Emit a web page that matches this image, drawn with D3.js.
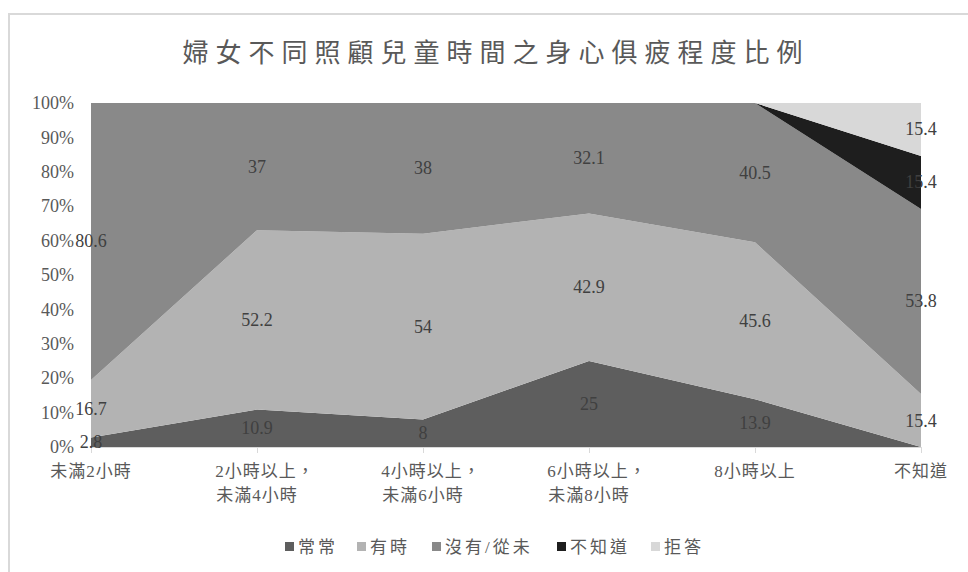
<!DOCTYPE html>
<html><head><meta charset="utf-8">
<script src="https://cdn.jsdelivr.net/npm/d3@7"></script>
<style>
html,body{margin:0;padding:0;background:#fff;}
svg{display:block;}
</style></head>
<body>
<script>
const title = "婦女不同照顧兒童時間之身心俱疲程度比例";
const categories = [["未滿2小時"],["2小時以上，","未滿4小時"],["4小時以上，","未滿6小時"],["6小時以上，","未滿8小時"],["8小時以上"],["不知道"]];
const seriesNames = ["常常","有時","沒有/從未","不知道","拒答"];
const often   = [2.8, 10.9, 8, 25, 13.9, 0];
const sometimes = [16.7, 52.2, 54, 42.9, 45.6, 15.4];
const never   = [80.6, 37, 38, 32.1, 40.5, 53.8];
const unknown = [0, 0, 0, 0, 0, 15.4];
const refused = [0, 0, 0, 0, 0, 15.4];
const yTicks = [0,10,20,30,40,50,60,70,80,90,100];
const colors = ["#5e5e5e","#b3b3b3","#898989","#1e1e1e","#d8d8d8"];

const FONT = "'Liberation Serif','Times New Roman','DejaVu Serif','Noto Sans CJK TC',serif";
const W=968,H=572;
const svg=d3.select("body").append("svg").attr("width",W).attr("height",H);
// frame
svg.append("path").attr("d","M9,572 V14 H968").attr("fill","none").attr("stroke","#d9d9d9").attr("stroke-width",2);

const m={l:91,r:921,t:103,b:447};
const x=d3.scalePoint().domain(d3.range(categories.length)).range([m.l,m.r]);
const y=d3.scaleLinear().domain([0,100]).range([m.b,m.t]);

const seriesVals=[often,sometimes,never,unknown,refused];
const rows=categories.map((c,i)=>{const o={i};seriesVals.forEach((s,k)=>{o[k]=s[i];});o.total=d3.sum(seriesVals,s=>s[i]);return o;});
const keys=d3.range(seriesVals.length);
const stack=d3.stack().keys(keys).value((d,k)=>d[k]/d.total*100)(rows);

const area=d3.area().x(d=>x(d.data.i)).y0(d=>y(d[0])).y1(d=>y(d[1]));
svg.append("g").selectAll("path").data(stack).join("path")
  .attr("d",area).attr("fill",(d,k)=>colors[k]);

// title
svg.append("text").attr("x",496).attr("y",62).attr("text-anchor","middle")
  .style("font-family",FONT).attr("font-size",26).attr("fill","#595959").attr("letter-spacing",7).text(title);

// y axis labels
const yAxis=svg.append("g").attr("transform",`translate(${m.l},0)`)
  .call(d3.axisLeft(y).tickValues(yTicks).tickFormat(d=>d+"%").tickSize(0).tickPadding(17));
yAxis.select(".domain").remove();
yAxis.selectAll("text").attr("font-size",18).attr("fill","#595959").style("font-family",FONT);

// x axis
const xAxis=svg.append("g").attr("transform",`translate(0,${m.b})`)
  .call(d3.axisBottom(x).tickSize(6).tickFormat(""));
xAxis.select(".domain").attr("stroke","#d9d9d9");
xAxis.selectAll("line").attr("stroke","#d9d9d9");
const xl=svg.append("g");
categories.forEach((c,i)=>{
  const t=xl.append("text").attr("x",x(i)).attr("y",477).attr("text-anchor","middle")
   .style("font-family",FONT).attr("font-size",17).attr("fill","#595959").attr("letter-spacing",1);
  c.forEach((line,j)=>t.append("tspan").attr("x",x(i)+(line.endsWith("，")?8:0)).attr("dy",j===0?0:24).text(line));
});

// data labels
const lg=svg.append("g");
stack.forEach((s,k)=>{
  s.forEach(d=>{
    const v=seriesVals[k][d.data.i];
    if(v>0){
      lg.append("text").attr("x",x(d.data.i)).attr("y",y((d[0]+d[1])/2)+6)
        .attr("text-anchor","middle").attr("font-size",18).attr("fill","#404040")
        .style("font-family",FONT).text(v);
    }
  });
});

// legend
const legX=[285,357,432,557,651];
const leg=svg.append("g");
seriesNames.forEach((n,k)=>{
  leg.append("rect").attr("x",legX[k]).attr("y",542).attr("width",9).attr("height",9).attr("fill",colors[k]);
  leg.append("text").attr("x",legX[k]+13).attr("y",553).attr("font-size",17).attr("fill","#595959")
    .style("font-family",FONT).attr("letter-spacing",3).text(n);
});
</script>
</body></html>
